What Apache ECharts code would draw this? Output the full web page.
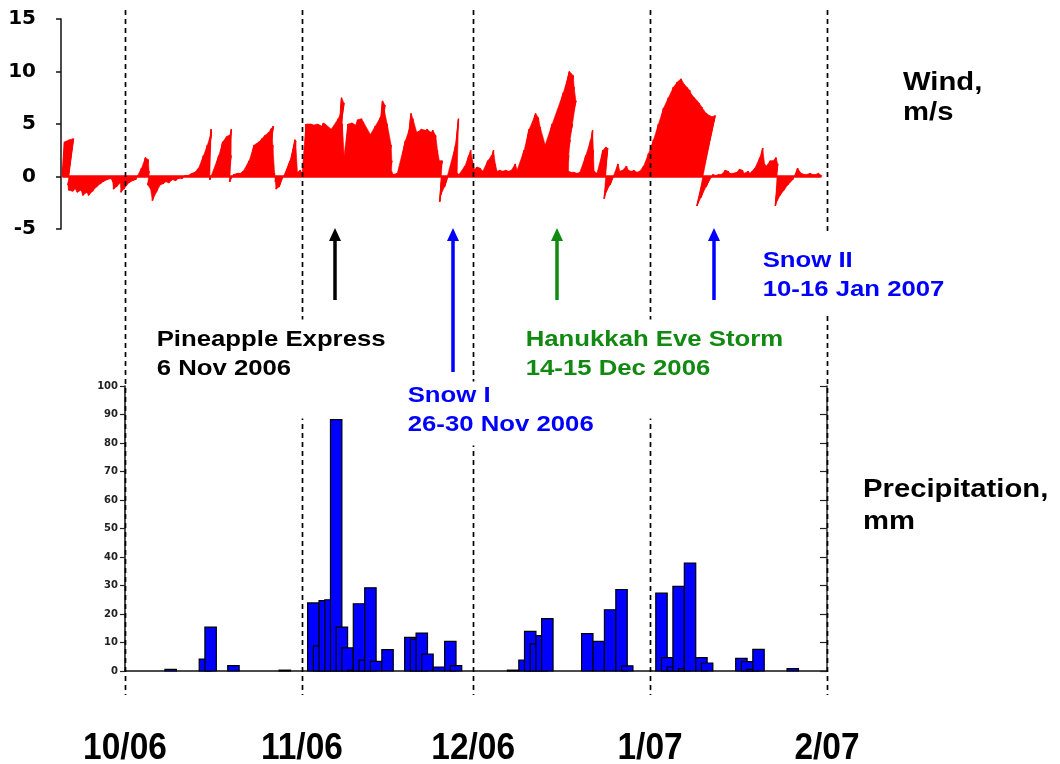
<!DOCTYPE html>
<html>
<head>
<meta charset="utf-8">
<script src="https://cdn.jsdelivr.net/npm/echarts@6/dist/echarts.min.js"></script>
<style>
  html, body { margin: 0; padding: 0; background: #ffffff; }
  #chart { width: 1060px; height: 764px; }
</style>
</head>
<body>
<div id="chart"></div>
<script>
// All times are in days counted from 1 Oct 2006 00:00 (day 0).

// Wind: 12-hourly samples starting 20 Sep 2006 (day -11).
const WIND_START_DAY = -11;
const WIND_STEP_DAYS = 0.5;

// North component of the wind, m/s
const windV = [
  3.3, 3.5, 3.6, -0.8, -1.3, -1.4, -1.2, -1.5, -1.3, -1.8,
  -1.5, -1.8, -1.4, -1.0, -0.7, -0.5, -0.3, -0.2, -0.5, -1.2,
  -1.0, -0.6, -1.5, -1.2, -0.6, -0.4, -0.3, 0.8, 1.8, 1.6,
  0.5, -0.8, -1.2, -2.3, -1.5, -0.8, -0.7, -0.5, -0.6, -0.3,
  -0.4, -0.2, -0.2, 0.1, 0.1, 0.3, 0.4, 0.8, 2.0, 3.0,
  4.2, 4.5, -0.3, 2.0, 3.3, 3.8, 4.0, 4.5, 2.0, -0.5,
  0.2, 0.3, 0.3, 0.5, 1.5, 3.0, 3.3, 3.6, 3.9, 4.2,
  4.6, 4.8, 4.0, 3.0, 0.3, -0.5, -1.2, -1.0, 1.5, 3.0,
  3.5, 3.4, 0.4, 0.6, 0.3, 5.0, 5.0, 4.9, 5.0, 4.8,
  5.1, 5.0, 4.5, 5.5, 6.3, 7.0, 7.5, 5.0, 2.0, 5.0,
  5.1, 4.9, 5.4, 5.5, 5.2, 4.0, 4.8, 5.6, 6.2, 6.8,
  7.2, 6.3, 5.0, 3.0, 1.5, 0.5, 0.2, 0.3, 3.4, 4.8,
  6.0, 5.5, 4.2, 4.3, 4.5, 4.4, 4.5, 4.2, 4.4, 3.9,
  2.5, 1.5, 1.5, -2.4, -1.8, -1.0, 3.0, 5.5, 0.3, 0.2,
  1.0, 2.0, 2.5, 1.5, 0.7, 0.9, 0.8, 0.5, 1.5, 2.0,
  2.5, 1.2, 0.5, 0.6, 0.5, 0.6, 0.5, 0.6, 1.2, 0.6,
  2.5, 4.5, 5.3, 5.8, 6.0, 5.6, 4.7, 3.0, 5.0, 8.0,
  10.0, 9.6, 8.5, 7.2, 5.0, 3.5, 2.0, 0.5, 0.4, 0.4,
  0.3, 0.4, 2.0, 3.5, 4.4, 2.5, 0.5, 0.3, 2.5, 2.8,
  2.7, -2.1, -1.5, -0.8, 1.2, 0.5, 0.6, 1.0, 0.6, 0.5,
  0.6, 0.4, 0.5, 1.0, 2.2, 3.5, 5.0, 6.5, 7.5, 8.5,
  9.0, 9.3, 8.8, 8.5, 8.2, 7.8, 7.5, 7.2, 7.0, 6.6,
  6.3, 6.0, 5.8, 5.7, 5.8, -2.8, -2.0, -1.0, 0.2, 0.1,
  0.2, 0.2, 0.6, 0.5, 0.3, 0.3, 0.4, 0.7, 0.6, 0.3,
  0.5, 0.3, 0.8, 1.8, 2.7, 1.2, 1.0, 1.5, 1.5, 1.8,
  1.2, -2.8, -2.3, -1.8, -1.3, -0.8, -0.3, 0.8, 0.5, 0.3,
  0.2, 0.2, 0.3, 0.2, 0.2, 0.3, 0.1
];

// East component of the wind, m/s
const windU = [
  0.2, 0.4, 0.5, -0.3, -0.5, -0.4, -0.4, -0.5, -0.4, -0.5,
  -0.4, -0.5, -0.4, -0.3, -0.2, -0.2, -0.1, 0.0, -0.1, -0.3,
  -0.3, -0.2, -0.4, -0.4, -0.2, -0.1, -0.1, 0.2, 0.3, 0.3,
  0.1, -0.3, -0.3, -0.4, -0.3, -0.2, -0.2, -0.2, -0.2, -0.1,
  -0.1, -0.1, 0.0, 0.0, 0.0, 0.1, 0.1, 0.2, 0.4, 0.5,
  0.6, 0.3, -0.1, 0.5, 0.6, 0.7, 0.8, 0.6, 0.3, -0.1,
  0.0, 0.1, 0.1, 0.1, 0.4, 0.6, 0.8, 0.8, 0.8, 0.9,
  0.9, 0.8, 0.4, 0.2, 0.1, -0.1, -0.3, -0.3, 0.5, 0.6,
  0.4, 0.2, 0.1, 0.1, 0.0, 0.1, 0.3, 0.3, 0.4, 0.5,
  0.4, 0.3, 0.6, 1.0, 1.1, 1.0, 0.5, 0.3, 0.2, 0.3,
  0.4, 0.5, 0.4, 0.5, 0.4, 0.8, 1.0, 1.2, 1.2, 1.1,
  0.6, 0.5, 0.5, 0.6, 0.4, 0.1, 0.0, 0.1, 0.6, 0.8,
  0.6, 0.5, 0.6, 0.5, 0.5, 0.6, 0.5, 0.6, 0.5, 0.5,
  0.4, 0.3, 0.3, -0.2, -0.4, -0.3, 0.5, 0.5, 0.1, 0.0,
  0.3, 0.4, 0.3, 0.2, 0.1, 0.1, 0.1, 0.1, 0.3, 0.4,
  0.3, 0.2, 0.1, 0.1, 0.1, 0.1, 0.1, 0.1, 0.2, 0.1,
  0.5, 0.7, 0.8, 0.7, 0.5, 0.5, 0.4, 0.6, 1.0, 1.8,
  2.1, 2.2, 2.0, 1.9, 1.3, 0.8, 0.4, 0.1, 0.1, 0.1,
  0.1, 0.1, 0.4, 0.6, 0.5, 0.3, 0.1, 0.1, 0.4, 0.4,
  0.3, -0.3, -0.4, -0.3, 0.2, 0.1, 0.1, 0.2, 0.1, 0.1,
  0.1, 0.1, 0.1, 0.2, 0.4, 0.6, 0.8, 1.0, 1.2, 1.4,
  1.5, 1.6, 1.6, 1.6, 1.6, 1.5, 1.5, 1.5, 1.4, 1.4,
  1.3, 1.3, 1.3, 1.3, 1.3, -0.7, -0.6, -0.4, 0.0, 0.0,
  0.0, 0.0, 0.1, 0.1, 0.0, 0.0, 0.1, 0.1, 0.1, 0.0,
  0.1, 0.0, 0.2, 0.4, 0.4, 0.3, 0.2, 0.3, 0.3, 0.3,
  0.2, -0.3, -0.4, -0.4, -0.3, -0.2, 0.0, 0.2, 0.1, 0.0,
  0.0, 0.0, 0.0, 0.0, 0.0, 0.0, 0.0
];

// Daily precipitation: day of the record and total, mm
const precipDay = [
  7, 13, 14, 18, 27,
  32, 33, 34, 35, 36, 37, 38, 39, 40, 41, 42, 43, 45, 49, 50, 51, 52, 54, 56, 57,
  67, 69, 70, 71, 72, 73, 80, 82, 84, 86, 87,
  93, 94, 95, 96, 97, 98, 100, 101, 107, 108, 109, 110, 116
];
const precipMm = [
  0.6, 4.2, 15.4, 1.9, 0.3,
  23.9, 8.8, 24.7, 25.0, 88.2, 15.4, 8.1, 0.3, 23.6, 3.8, 29.2, 3.4, 7.5, 11.8, 11.1, 13.3, 5.9, 1.4, 10.4, 1.9,
  0.3, 3.8, 13.9, 9.5, 12.4, 18.4, 13.1, 10.4, 21.5, 28.6, 1.8,
  27.3, 4.7, 1.4, 29.7, 0.8, 37.9, 4.7, 2.8, 4.4, 3.3, 0.6, 7.6, 0.8
];

// Month boundaries and their labels
const monthStartDay = [0, 31, 61, 92, 123];
const monthLabels = ['10/06', '11/06', '12/06', '1/07', '2/07'];

// Storm events marked with arrows
const eventDay = [36.8, 57.4, 75.7, 103.2];
const eventTitle = ['Pineapple Express', 'Snow I', 'Hanukkah Eve Storm', 'Snow II'];
const eventDates = ['6 Nov 2006', '26-30 Nov 2006', '14-15 Dec 2006', '10-16 Jan 2007'];
const eventColor = ['#000000', '#0000ff', '#128a12', '#0000ff'];

// Axis ranges
const WIND_MIN = -5, WIND_MAX = 15, WIND_STEP = 5;
const PRECIP_MIN = 0, PRECIP_MAX = 100, PRECIP_STEP = 10;
const DAY_FIRST = 0, DAY_LAST = 123;
const WIND_DAY_FIRST = -11.25;

// ---- layout (pixels) ----
const BAR_SPAN_DAYS = 2;
const LINE_TOP = 10, LINE_BOTTOM = 695;
const MONTH_LABEL_Y = 749;
const ARROW_TOP = 228;
const arrowBottom = [300, 372, 300, 300];
const eventBox = [
  { x: 152, y: 319.5, pad: [6, 4, 35, 4], z: 60 },
  { x: 403, y: 381.5, pad: [0, 4, 6, 4], z: 70 },
  { x: 521, y: 319.5, pad: [6, 4, 35, 4], z: 60 },
  { x: 758, y: 234.5, pad: [12, 4, 8, 4], z: 60 }
];

const windData = windV.map((v, i) => [WIND_START_DAY + i * WIND_STEP_DAYS, windU[i], v]);
const windLastDay = WIND_START_DAY + (windV.length - 1) * WIND_STEP_DAYS;
const precipData = precipDay.map((d, i) => [d, precipMm[i]]);

const WIND_RED = '#ff0000';

const chart = echarts.init(document.getElementById('chart'), null, { renderer: 'canvas' });

const option = {
  animation: false,
  backgroundColor: '#ffffff',
  grid: [
    { left: 61, right: 233, top: 19, height: 210 },
    { left: 125, right: 233, top: 386, height: 285 }
  ],
  xAxis: [
    {
      gridIndex: 0, type: 'value', min: WIND_DAY_FIRST, max: DAY_LAST,
      axisLine: { show: false }, axisTick: { show: false },
      axisLabel: { show: false }, splitLine: { show: false }
    },
    {
      gridIndex: 1, type: 'value', min: DAY_FIRST, max: DAY_LAST,
      axisLine: { show: true, onZero: false, lineStyle: { color: '#111', width: 1.6 } },
      axisTick: { show: false }, axisLabel: { show: false }, splitLine: { show: false }
    }
  ],
  yAxis: [
    {
      gridIndex: 0, type: 'value', min: WIND_MIN, max: WIND_MAX, interval: WIND_STEP,
      axisLine: { show: true, onZero: false, lineStyle: { color: '#111', width: 1.5 } },
      axisTick: { show: true, length: 5, lineStyle: { color: '#111', width: 1.5 } },
      axisLabel: {
        margin: 25, color: '#000', fontSize: 20, fontWeight: 'bold',
        fontFamily: '"DejaVu Sans", sans-serif'
      },
      splitLine: { show: false }
    },
    {
      gridIndex: 1, type: 'value', position: 'left',
      min: PRECIP_MIN, max: PRECIP_MAX, interval: PRECIP_STEP,
      axisLine: { show: true, onZero: false, lineStyle: { color: '#111', width: 1.5 } },
      axisTick: { show: true, length: 5, lineStyle: { color: '#222', width: 1.2 } },
      axisLabel: {
        margin: 7, color: '#222', fontSize: 10, fontWeight: 'bold',
        fontFamily: '"DejaVu Sans", sans-serif'
      },
      splitLine: { show: false }
    },
    {
      gridIndex: 1, type: 'value', position: 'right',
      min: PRECIP_MIN, max: PRECIP_MAX, interval: PRECIP_STEP,
      axisLine: { show: true, onZero: false, lineStyle: { color: '#333', width: 1.5 } },
      axisTick: { show: true, inside: true, length: 7, lineStyle: { color: '#222', width: 1.2 } },
      axisLabel: { show: false },
      splitLine: { show: false }
    }
  ],
  series: [
    {
      // zero line under the wind sticks
      type: 'line', xAxisIndex: 0, yAxisIndex: 0, silent: true,
      symbol: 'none', z: 2,
      data: [[WIND_START_DAY, 0], [windLastDay, 0]],
      lineStyle: { color: WIND_RED, width: 2.5 }
    },
    {
      // wind stick plot: each stick runs from (t, 0) along the wind vector;
      // the space swept between successive sticks is filled, as in a dense stick plot
      type: 'custom', xAxisIndex: 0, yAxisIndex: 0, silent: true, z: 3,
      data: windData,
      encode: { x: 0, y: 2 },
      renderItem: function (params, api) {
        const unit = api.size([0, 1])[1];
        const stick = (s) => {
          const b = api.coord([s[0], 0]);
          return [b, [b[0] + s[1] * unit, b[1] - s[2] * unit]];
        };
        const i = params.dataIndex;
        const cur = stick([api.value(0), api.value(1), api.value(2)]);
        const children = [];
        if (i + 1 < windData.length) {
          const nxt = stick(windData[i + 1]);
          children.push({
            type: 'polygon',
            shape: { points: [cur[0], cur[1], nxt[1], nxt[0]] },
            style: { fill: WIND_RED, stroke: WIND_RED, lineWidth: 0.6 }
          });
        }
        children.push({
          type: 'line',
          shape: { x1: cur[0][0], y1: cur[0][1], x2: cur[1][0], y2: cur[1][1] },
          style: { stroke: WIND_RED, lineWidth: 1.6 }
        });
        return { type: 'group', children: children };
      }
    },
    {
      // daily precipitation, each bar spanning two days
      type: 'custom', xAxisIndex: 1, yAxisIndex: 1, silent: true, z: 3,
      data: precipData,
      encode: { x: 0, y: 1 },
      renderItem: function (params, api) {
        const d = api.value(0), mm = api.value(1);
        const p0 = api.coord([d, 0]);
        const p1 = api.coord([d + BAR_SPAN_DAYS, mm]);
        return {
          type: 'rect',
          shape: { x: p0[0], y: p1[1], width: p1[0] - p0[0], height: p0[1] - p1[1] },
          style: { fill: '#0000ff', stroke: '#000000', lineWidth: 1.2 }
        };
      }
    }
  ]
};

chart.setOption(option);

// Overlay: month lines, month labels, event arrows and captions
function textEl(x, y, text, opts) {
  return {
    type: 'text', x: x, y: y, z: opts.z || 60, silent: true,
    scaleX: opts.scaleX || 1,
    style: {
      text: text,
      font: opts.font,
      fill: opts.color || '#000',
      align: opts.align || 'left', textAlign: opts.align || 'left',
      verticalAlign: opts.valign || 'top', textVerticalAlign: opts.valign || 'top',
      lineHeight: opts.lineHeight,
      backgroundColor: opts.bg,
      padding: opts.pad
    }
  };
}

const px = d => chart.convertToPixel({ xAxisIndex: 1 }, d);
const overlay = [];

monthStartDay.forEach((d, i) => {
  const x = Math.round(px(d)) + 0.5;
  overlay.push({
    type: 'line', z: 50, silent: true,
    shape: { x1: x, y1: LINE_TOP, x2: x, y2: LINE_BOTTOM },
    style: { stroke: '#000', lineWidth: 1.7, lineDash: [5, 4] }
  });
  overlay.push(textEl(px(d), MONTH_LABEL_Y, monthLabels[i], {
    font: 'bold 36px "Liberation Sans", Arial, sans-serif',
    align: 'center', valign: 'middle', scaleX: 0.93
  }));
});

eventDay.forEach((d, i) => {
  const x = Math.round(px(d));
  const c = eventColor[i];
  overlay.push({
    type: 'line', z: 55, silent: true,
    shape: { x1: x, y1: arrowBottom[i], x2: x, y2: ARROW_TOP + 10 },
    style: { stroke: c, lineWidth: 3.5 }
  });
  overlay.push({
    type: 'polygon', z: 55, silent: true,
    shape: { points: [[x, ARROW_TOP], [x - 6, ARROW_TOP + 13], [x + 6, ARROW_TOP + 13]] },
    style: { fill: c }
  });
  const b = eventBox[i];
  overlay.push(textEl(b.x, b.y, eventTitle[i] + '\n' + eventDates[i], {
    font: 'bold 22px "Liberation Sans", Arial, sans-serif',
    color: c, lineHeight: 29, scaleX: 1.17, bg: '#ffffff', pad: b.pad, z: b.z
  }));
});

overlay.push(textEl(903, 68, 'Wind,\nm/s', {
  font: 'bold 25px "Liberation Sans", Arial, sans-serif',
  lineHeight: 30, scaleX: 1.17
}));
overlay.push(textEl(863, 474, 'Precipitation,\nmm', {
  font: 'bold 25px "Liberation Sans", Arial, sans-serif',
  lineHeight: 32, scaleX: 1.17
}));

chart.setOption({ graphic: { elements: overlay } });
</script>
</body>
</html>
